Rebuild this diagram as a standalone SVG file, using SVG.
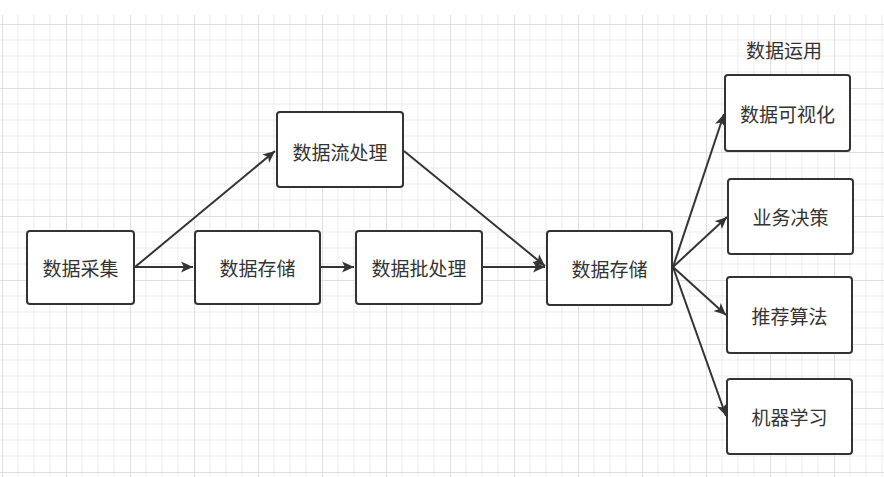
<svg xmlns="http://www.w3.org/2000/svg" width="884" height="477" viewBox="0 0 884 477">
<defs>
<pattern id="grid" x="2" y="24" width="64" height="64" patternUnits="userSpaceOnUse">
<path d="M16 0V64M32 0V64M48 0V64M0 16H64M0 32H64M0 48H64" stroke="#ebebeb" stroke-width="1" fill="none"/>
<path d="M0.5 0V64M0 0.5H64" stroke="#dfdfdf" stroke-width="1" fill="none"/>
</pattern>
<marker id="arr" viewBox="0 0 10 10" refX="10" refY="5" markerWidth="6" markerHeight="6" markerUnits="strokeWidth" orient="auto">
<path d="M0 0.5L10 5L0 9.5L2.5 5Z" fill="#333"/>
</marker>
<style>
.box{fill:#fff;stroke:#333;stroke-width:2}
.lbl{font-family:"Noto Sans CJK SC","Noto Sans",sans-serif;font-size:19px;fill:#333;text-anchor:middle;dominant-baseline:central}
.edge{stroke:#333;stroke-width:2;fill:none;marker-end:url(#arr)}
</style>
</defs>
<rect width="884" height="477" fill="#fff"/>
<rect x="0" y="15" width="884" height="462" fill="url(#grid)"/>
<g id="connectors">
<line class="edge" x1="135" y1="267" x2="193" y2="267"/>
<line class="edge" x1="135" y1="267" x2="275" y2="151"/>
<line class="edge" x1="321" y1="267" x2="354" y2="267"/>
<line class="edge" x1="483" y1="267" x2="545" y2="267"/>
<line class="edge" x1="404" y1="151" x2="545" y2="266"/>
<line class="edge" x1="673" y1="267" x2="724" y2="114"/>
<line class="edge" x1="673" y1="267" x2="727" y2="217"/>
<line class="edge" x1="673" y1="267" x2="726" y2="315"/>
<line class="edge" x1="673" y1="267" x2="726" y2="416"/>
</g>
<g id="n_collect"><rect class="box" x="27" y="231" width="107" height="73" rx="3"/><text class="lbl" x="80.5" y="267.5">数据采集</text></g>
<g id="n_store1"><rect class="box" x="195" y="231" width="125" height="73" rx="3"/><text class="lbl" x="257.5" y="267.5">数据存储</text></g>
<g id="n_stream"><rect class="box" x="277" y="112" width="126" height="75" rx="3"/><text class="lbl" x="340" y="151">数据流处理</text></g>
<g id="n_batch"><rect class="box" x="356" y="231" width="126" height="73" rx="3"/><text class="lbl" x="419" y="267.5">数据批处理</text></g>
<g id="n_store2"><rect class="box" x="547" y="231" width="125" height="74" rx="3"/><text class="lbl" x="609.5" y="268">数据存储</text></g>
<g id="title"><text class="lbl" x="784" y="49">数据运用</text></g>
<g id="n_vis"><rect class="box" x="725" y="75" width="125" height="76" rx="3"/><text class="lbl" x="787.5" y="113">数据可视化</text></g>
<g id="n_decision"><rect class="box" x="728" y="179" width="125" height="75" rx="3"/><text class="lbl" x="790.5" y="216.5">业务决策</text></g>
<g id="n_recommend"><rect class="box" x="727" y="277" width="125" height="76" rx="3"/><text class="lbl" x="789.5" y="315">推荐算法</text></g>
<g id="n_ml"><rect class="box" x="727" y="379" width="125" height="75" rx="3"/><text class="lbl" x="789.5" y="416.5">机器学习</text></g>
</svg>
